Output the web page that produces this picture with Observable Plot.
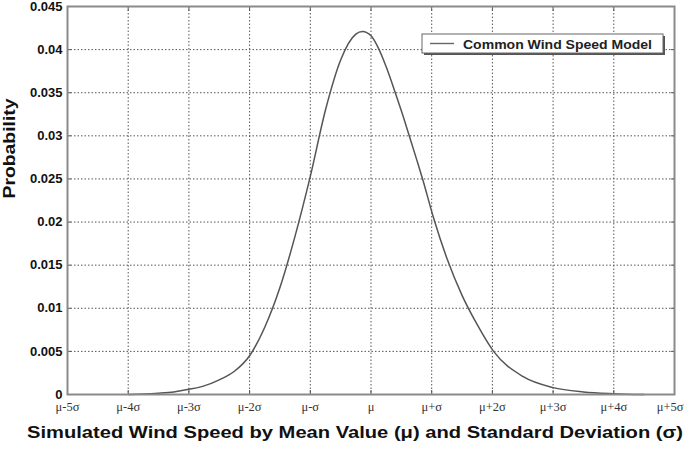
<!DOCTYPE html>
<html>
<head>
<meta charset="utf-8">
<script src="https://cdn.jsdelivr.net/npm/d3@7"></script>
<script src="https://cdn.jsdelivr.net/npm/@observablehq/plot@0.6"></script>
<style>
  html, body { margin: 0; padding: 0; background: #fff; }
  #chart svg { display: block; }
</style>
</head>
<body>
<div id="chart"></div>
<script>
// x positions in units of standard deviation from the mean
const sigmaOffsets = [-4, -3.75, -3.5, -3.25, -3, -2.75, -2.5, -2.25, -2, -1.75, -1.5, -1.25, -1, -0.75, -0.5, -0.25, -0.14, 0, 0.12, 0.25, 0.4, 0.5, 0.63, 0.75, 0.85, 1.03, 1.25, 1.5, 1.75, 2.02, 2.5, 3, 3.5, 4, 4.5];
const probability  = [0, 0.00005, 0.00015, 0.0003, 0.0006, 0.001, 0.0017, 0.0027, 0.0045, 0.0078, 0.0124, 0.0184, 0.0253, 0.033, 0.0388, 0.0418, 0.0421, 0.0416, 0.0402, 0.0380, 0.035, 0.0329, 0.0300, 0.0273, 0.025, 0.0205, 0.0158, 0.0115, 0.0081, 0.005, 0.0021, 0.0008, 0.0003, 0.0001, 0];

const xTicks = [-5, -4, -3, -2, -1, 0, 1, 2, 3, 4, 5];
const xTickLabels = ["μ-5σ", "μ-4σ", "μ-3σ", "μ-2σ", "μ-σ", "μ", "μ+σ", "μ+2σ", "μ+3σ", "μ+4σ", "μ+5σ"];
const yTicks = [0, 0.005, 0.01, 0.015, 0.02, 0.025, 0.03, 0.035, 0.04, 0.045];
const yTickLabels = ["0", "0.005", "0.01", "0.015", "0.02", "0.025", "0.03", "0.035", "0.04", "0.045"];

const xTitle = "Simulated Wind Speed by Mean Value (μ) and Standard Deviation (σ)";
const yTitle = "Probability";
const seriesName = "Common Wind Speed Model";

const points = sigmaOffsets.map((s, i) => ({s, p: probability[i]}));

const sans = "'Liberation Sans', Arial, sans-serif";
const serif = "'Liberation Serif', 'Times New Roman', serif";
const blank = () => "";
const innerX = xTicks.slice(1, -1);
const innerY = yTicks.slice(1, -1);

const chart = Plot.plot({
  width: 685,
  height: 450,
  marginLeft: 67,
  marginRight: 11,
  marginTop: 6,
  marginBottom: 56,
  style: {background: "#fff"},
  x: {domain: [-5, 5]},
  y: {domain: [0, 0.045]},
  marks: [
    Plot.gridX(innerX, {stroke: "#555", strokeOpacity: 1, strokeWidth: 1, strokeDasharray: "1.5,2"}),
    Plot.gridY(innerY, {stroke: "#555", strokeOpacity: 1, strokeWidth: 1, strokeDasharray: "1.5,2"}),
    // small inward tick marks on all four sides
    Plot.axisX(innerX, {anchor: "bottom", tickSize: 4, dy: -4, tickFormat: blank, label: null, stroke: "#555"}),
    Plot.axisX(innerX, {anchor: "top", tickSize: 4, dy: 4, tickFormat: blank, label: null, stroke: "#555"}),
    Plot.axisY(innerY, {anchor: "left", tickSize: 4, dx: 4, tickFormat: blank, label: null, stroke: "#555"}),
    Plot.axisY(innerY, {anchor: "right", tickSize: 4, dx: -4, tickFormat: blank, label: null, stroke: "#555"}),
    Plot.axisX(xTicks, {
      anchor: "bottom",
      tickFormat: (d, i) => xTickLabels[i],
      tickSize: 0, tickPadding: 8,
      fontFamily: serif, fontSize: 12.5, fill: "#333",
      label: null
    }),
    Plot.axisY(yTicks, {
      anchor: "left",
      tickFormat: (d, i) => yTickLabels[i],
      tickSize: 0, tickPadding: 5,
      fontFamily: sans, fontSize: 13, fontWeight: "bold", fill: "#111",
      label: null
    }),
    Plot.line(points, {x: "s", y: "p", curve: "monotone-x", stroke: "#555", strokeWidth: 1.5}),
    Plot.frame({stroke: "#8a8a8a", strokeWidth: 2}),
    Plot.text([xTitle], {frameAnchor: "bottom", dx: -16, dy: 43, fontFamily: sans, fontSize: 16.5, fontWeight: "bold", fill: "#111"}),
    Plot.text([yTitle], {frameAnchor: "left", rotate: -90, dx: -58, dy: -2, fontFamily: sans, fontSize: 16.5, fontWeight: "bold", fill: "#111"})
  ]
});

document.getElementById("chart").appendChild(chart);

const svg = d3.select(chart);
// stretch titles to the reference's lengths
svg.selectAll("text").filter(function() { return this.textContent === xTitle; })
  .attr("textLength", 656).attr("lengthAdjust", "spacingAndGlyphs");
svg.selectAll("text").filter(function() { return this.textContent === yTitle; })
  .attr("textLength", 100).attr("lengthAdjust", "spacingAndGlyphs");
// last x label sits flush against the right edge in the reference
svg.selectAll("text").filter(function() { return this.textContent === xTickLabels[xTickLabels.length - 1]; })
  .attr("text-anchor", "end").attr("dx", 9);

// legend box (top right, inside the plot frame)
const lg = svg.append("g").attr("class", "legend");
lg.append("rect").attr("x", 424).attr("y", 36).attr("width", 241).attr("height", 19).attr("fill", "#555");
lg.append("rect").attr("x", 422).attr("y", 34).attr("width", 241).attr("height", 19).attr("fill", "#fff").attr("stroke", "#666").attr("stroke-width", 1);
lg.append("line").attr("x1", 430).attr("x2", 454).attr("y1", 43.5).attr("y2", 43.5).attr("stroke", "#666").attr("stroke-width", 1.4);
lg.append("text").attr("x", 463).attr("y", 48.5).attr("text-anchor", "start")
  .attr("font-family", sans).attr("font-size", 13.5).attr("font-weight", "bold").attr("fill", "#222")
  .attr("textLength", 189).attr("lengthAdjust", "spacingAndGlyphs").text(seriesName);
</script>
</body>
</html>
